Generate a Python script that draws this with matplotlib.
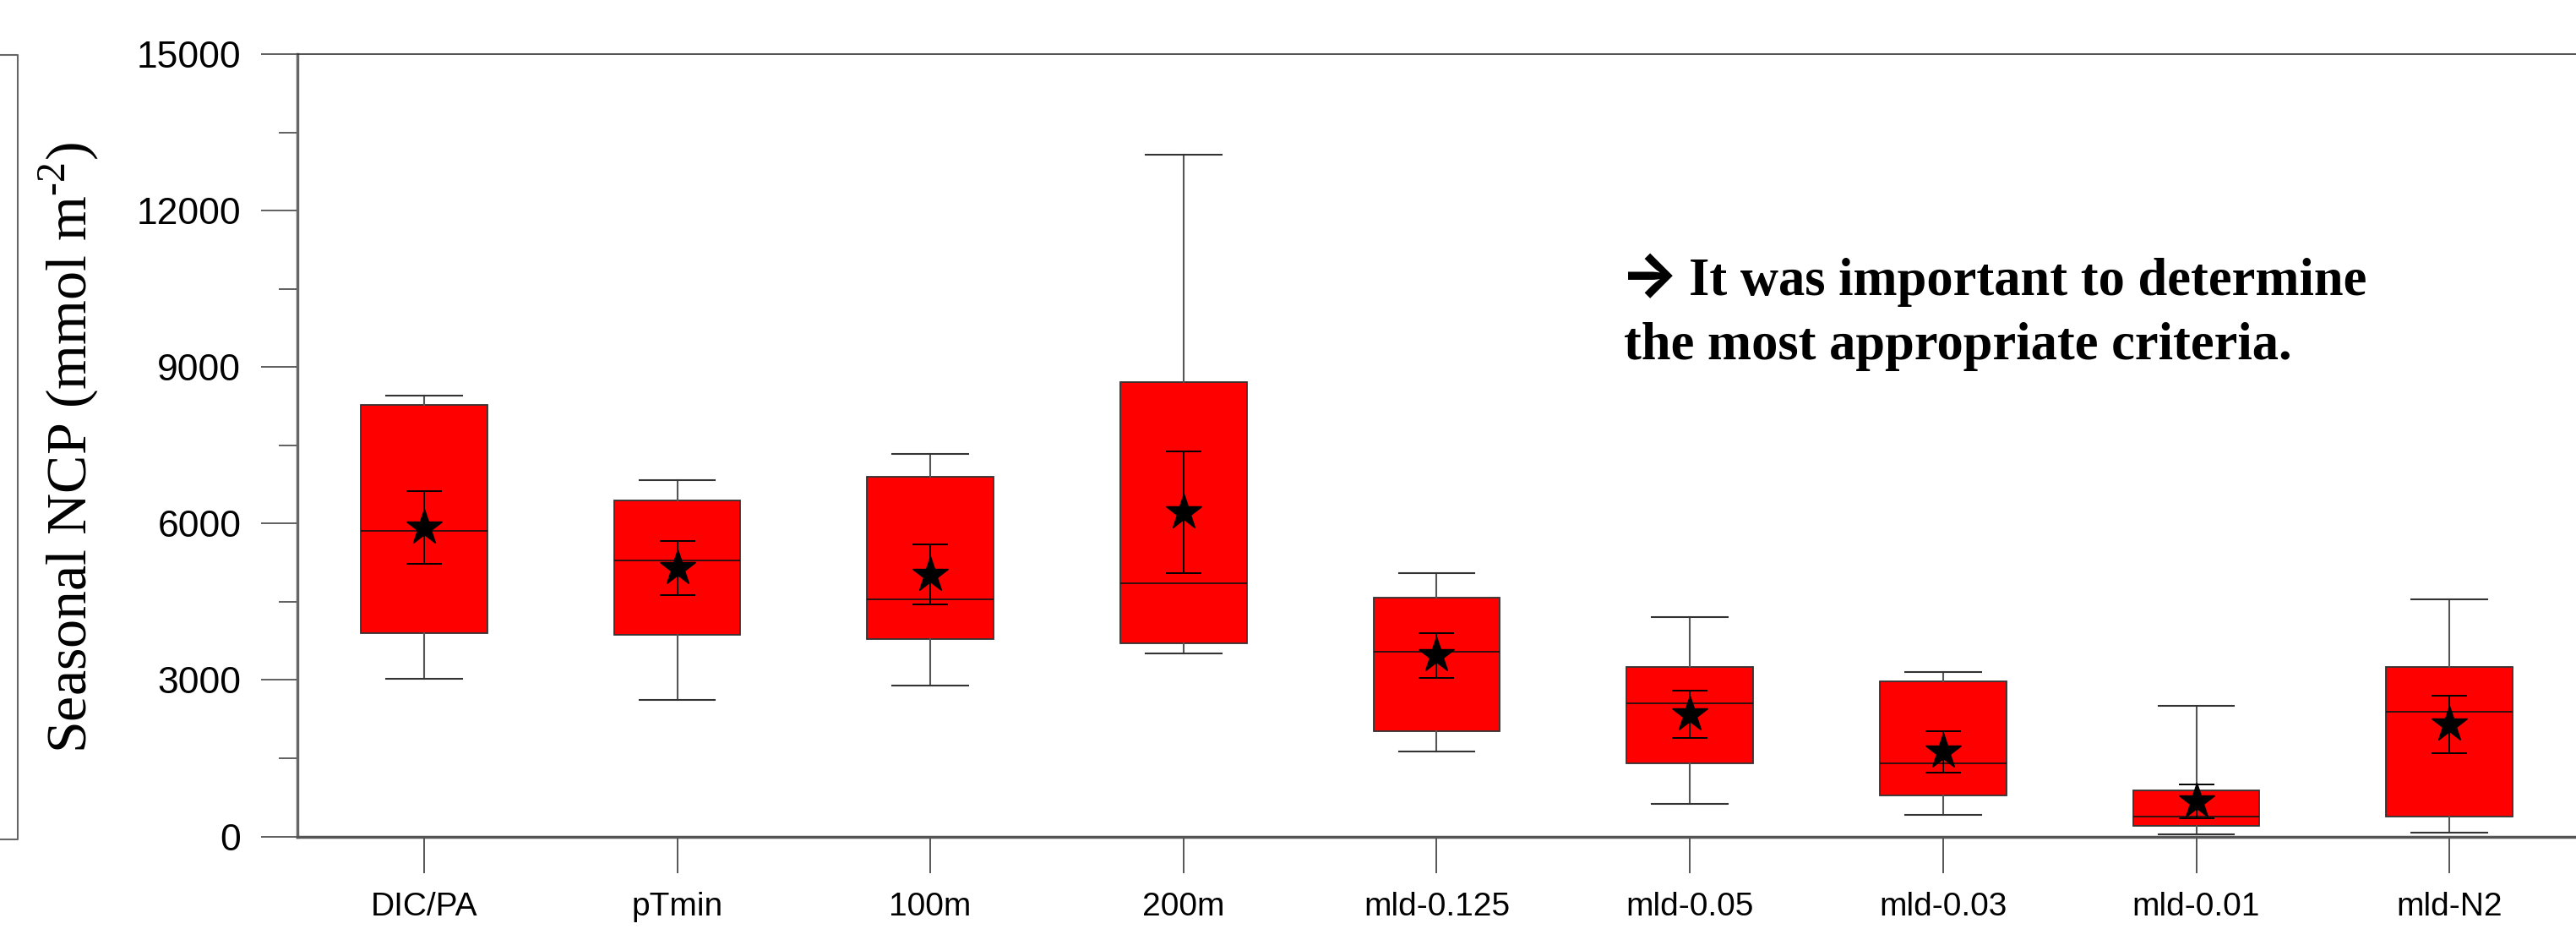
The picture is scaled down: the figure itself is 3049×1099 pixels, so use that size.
import matplotlib
matplotlib.use("Agg")
import matplotlib.pyplot as plt
from matplotlib.lines import Line2D
from matplotlib.ticker import MultipleLocator

categories = ["DIC/PA", "pTmin", "100m", "200m", "mld-0.125", "mld-0.05", "mld-0.03", "mld-0.01", "mld-N2"]
whis_hi = [8460, 6831, 7344, 13079, 5047, 4214, 3154, 2500, 4550]
q3 = [8275, 6441, 6903, 8708, 4585, 3253, 2980, 891, 3253]
median = [5862, 5300, 4540, 4859, 3543, 2546, 1400, 382, 2397]
q1 = [3898, 3861, 3781, 3702, 2020, 1400, 781, 209, 387]
whis_lo = [3016, 2626, 2893, 3514, 1632, 630, 417, 34, 81]
mean = [5923, 5148, 5021, 6220, 3470, 2345, 1624, 671, 2142]
mean_err = [697, 513, 574, 1165, 431, 458, 397, 324, 550]

W, H, DPI = 3049, 1099, 100
fig = plt.figure(figsize=(W / DPI, H / DPI), dpi=DPI)
ax = fig.add_axes([352 / W, 1 - 989.5 / H, 1 - 352 / W, (989.5 - 64.3) / H])

stats = []
for i, c in enumerate(categories):
    stats.append(dict(label=c, med=median[i], q1=q1[i], q3=q3[i],
                      whislo=whis_lo[i], whishi=whis_hi[i], fliers=[]))

pos = list(range(len(categories)))
ax.bxp(stats, positions=pos, widths=0.5, capwidths=0.3, patch_artist=True,
       showfliers=False,
       boxprops=dict(facecolor="#ff0000", edgecolor="#333333", linewidth=1.3),
       whiskerprops=dict(color="#555555", linewidth=1.5),
       capprops=dict(color="#333333", linewidth=1.5),
       medianprops=dict(color="#111111", linewidth=1.2))

ax.errorbar(pos, mean, yerr=mean_err, fmt="*", color="black", markersize=32,
            ecolor="black", elinewidth=1.4, capsize=15, capthick=1.4, zorder=5)

ax.set_xlim(-0.5, 8.5)
ax.set_ylim(0, 15000)
ax.set_xticks(pos)
ax.set_xticklabels(categories, fontfamily="Liberation Sans", fontsize=28)
ax.yaxis.set_major_locator(MultipleLocator(3000))
ax.yaxis.set_minor_locator(MultipleLocator(1500))
for lab in ax.get_yticklabels():
    lab.set_fontfamily("Liberation Sans")
    lab.set_fontsize(32)

ax.tick_params(axis="x", which="major", direction="out", length=31, width=1.4,
               color="#555555", pad=16)
ax.tick_params(axis="y", which="major", direction="out", length=31, width=1.2,
               color="#444444", pad=17, labelsize=32)
ax.tick_params(axis="y", which="minor", direction="out", length=15.6, width=1.2,
               color="#444444")

ax.spines["right"].set_visible(False)
ax.spines["top"].set_linewidth(1.2)
ax.spines["top"].set_color("#333333")
ax.spines["left"].set_linewidth(2.5)
ax.spines["left"].set_color("#666666")
ax.spines["bottom"].set_linewidth(2.5)
ax.spines["bottom"].set_color("#555555")

fig.text(82 / W, 1 - 530 / H, "Seasonal NCP (mmol m$^{\\mathregular{\u2010}\\mathregular{2}}$)",
         rotation=90, ha="center", va="center", fontsize=49,
         fontfamily=["Liberation Serif", "DejaVu Serif"])

fig.text(1918 / W, 1 - 349 / H, "\u2192",
         ha="left", va="baseline", fontsize=52, fontweight="heavy",
         fontfamily=["Inter", "DejaVu Sans"])
fig.text(1999 / W, 1 - 349 / H, "It was important to determine",
         ha="left", va="baseline", fontsize=45, fontweight="bold",
         fontfamily=["Liberation Serif", "DejaVu Serif"])
fig.text(1922 / W, 1 - 425 / H, "the most appropriate criteria.",
         ha="left", va="baseline", fontsize=45, fontweight="bold",
         fontfamily=["Liberation Serif", "DejaVu Serif"])

# partial frame of neighbouring panel at the left edge
xl = 21 / W
yt = 1 - 64.5 / H
yb = 1 - 993 / H
fig.add_artist(Line2D([0, xl, xl, 0], [yt, yt, yb, yb], transform=fig.transFigure,
                      color="#666666", linewidth=1.5))

fig.savefig("out.png", dpi=DPI)
